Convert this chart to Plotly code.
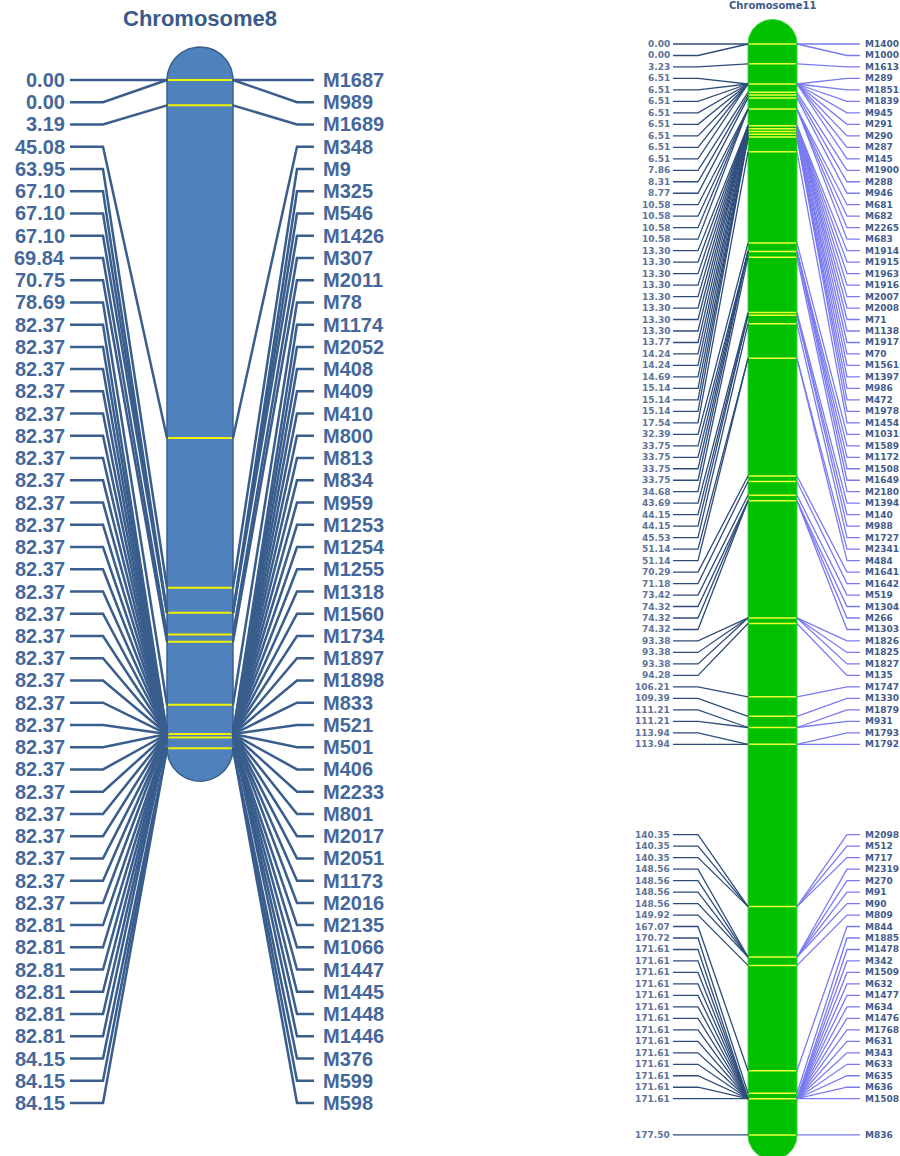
import numpy as np
import plotly.graph_objects as go

# ---------------- data ----------------
chr8_markers = ["M1687", "M989", "M1689", "M348", "M9", "M325", "M546", "M1426", "M307", "M2011",
                "M78", "M1174", "M2052", "M408", "M409", "M410", "M800", "M813", "M834", "M959",
                "M1253", "M1254", "M1255", "M1318", "M1560", "M1734", "M1897", "M1898", "M833", "M521",
                "M501", "M406", "M2233", "M801", "M2017", "M2051", "M1173", "M2016", "M2135", "M1066",
                "M1447", "M1445", "M1448", "M1446", "M376", "M599", "M598"]
chr8_pos = [0.00, 0.00, 3.19, 45.08, 63.95, 67.10, 67.10, 67.10, 69.84, 70.75,
            78.69, 82.37, 82.37, 82.37, 82.37, 82.37, 82.37, 82.37, 82.37, 82.37,
            82.37, 82.37, 82.37, 82.37, 82.37, 82.37, 82.37, 82.37, 82.37, 82.37,
            82.37, 82.37, 82.37, 82.37, 82.37, 82.37, 82.37, 82.37, 82.81, 82.81,
            82.81, 82.81, 82.81, 82.81, 84.15, 84.15, 84.15]

chr11_markers = ["M1400", "M1000", "M1613", "M289", "M1851", "M1839", "M945", "M291", "M290", "M287",
                 "M145", "M1900", "M288", "M946", "M681", "M682", "M2265", "M683", "M1914", "M1915",
                 "M1963", "M1916", "M2007", "M2008", "M71", "M1138", "M1917", "M70", "M1561", "M1397",
                 "M986", "M472", "M1978", "M1454", "M1031", "M1589", "M1172", "M1508", "M1649", "M2180",
                 "M1394", "M140", "M988", "M1727", "M2341", "M484", "M1641", "M1642", "M519", "M1304",
                 "M266", "M1303", "M1826", "M1825", "M1827", "M135", "M1747", "M1330", "M1879", "M931",
                 "M1793", "M1792", "M2098", "M512", "M717", "M2319", "M270", "M91", "M90", "M809",
                 "M844", "M1885", "M1478", "M342", "M1509", "M632", "M1477", "M634", "M1476", "M1768",
                 "M631", "M343", "M633", "M635", "M636", "M1508", "M836"]
chr11_pos = [0.00, 0.00, 3.23, 6.51, 6.51, 6.51, 6.51, 6.51, 6.51, 6.51,
             6.51, 7.86, 8.31, 8.77, 10.58, 10.58, 10.58, 10.58, 13.30, 13.30,
             13.30, 13.30, 13.30, 13.30, 13.30, 13.30, 13.77, 14.24, 14.24, 14.69,
             15.14, 15.14, 15.14, 17.54, 32.39, 33.75, 33.75, 33.75, 33.75, 34.68,
             43.69, 44.15, 44.15, 45.53, 51.14, 51.14, 70.29, 71.18, 73.42, 74.32,
             74.32, 74.32, 93.38, 93.38, 93.38, 94.28, 106.21, 109.39, 111.21, 111.21,
             113.94, 113.94, 140.35, 140.35, 140.35, 148.56, 148.56, 148.56, 148.56, 149.92,
             167.07, 170.72, 171.61, 171.61, 171.61, 171.61, 171.61, 171.61, 171.61, 171.61,
             171.61, 171.61, 171.61, 171.61, 171.61, 171.61, 177.50]

# ---------------- layout constants (pixels) ----------------
W, H = 900, 1156
CHR8 = dict(name="Chromosome8", scale=7.94, origin=80, x0=167, x1=233,
            l_start=70, l_knee=103, r_knee=297, r_end=314, lab_l=67, lab_r=321,
            gap=22.24, title_y=19)
CHR11 = dict(name="Chromosome11", scale=6.146, origin=44, x0=748, x1=797,
             l_start=673, l_knee=698, r_knee=847, r_end=860, lab_l=672, lab_r=863,
             gap=11.48, title_y=5)


def spread(pos, s):
    y = list(pos)
    for i in range(len(y) - 2, -1, -1):
        y[i] = min(pos[i], y[i + 1] - s)
    y[0] = max(y[0], pos[0])
    for i in range(1, len(y)):
        y[i] = max(y[i], y[i - 1] + s)
    return y


def capsule(c, top, bottom):
    r = (c["x1"] - c["x0"]) / 2
    cx = (c["x0"] + c["x1"]) / 2
    rc = r / c["scale"]
    t1 = np.linspace(np.pi, 0, 50)
    t2 = np.linspace(0, -np.pi, 50)
    xs = np.concatenate([cx + r * np.cos(t1), cx + r * np.cos(t2)])
    ys = np.concatenate([top - rc * np.sin(t1), bottom - rc * np.sin(t2)])
    xs = np.append(xs, xs[0])
    ys = np.append(ys, ys[0])
    return xs, ys


fig = go.Figure()
annotations = []


def add_chrom(c, pos, markers, yref, style):
    yax = "y" if yref == "y" else "y2"
    top, bottom = min(pos), max(pos)
    xs, ys = capsule(c, top, bottom)
    fig.add_trace(go.Scatter(x=xs, y=ys, mode="lines", fill="toself",
                             fillcolor=style["fill"],
                             line=dict(color=style["outline"], width=style["outline_w"]),
                             yaxis=yax, hoverinfo="skip"))
    bx, by = [], []
    for p in sorted(set(pos)):
        bx += [c["x0"] + 1, c["x1"] - 1, None]
        by += [p, p, None]
    fig.add_trace(go.Scatter(x=bx, y=by, mode="lines",
                             line=dict(color=style["band"], width=style["band_w"]),
                             yaxis=yax, hoverinfo="skip"))
    labs = spread(pos, c["gap"] / c["scale"])
    lx, ly, rx, ry = [], [], [], []
    for p, ly_ in zip(pos, labs):
        lx += [c["l_start"], c["l_knee"], c["x0"], None]
        ly += [ly_, ly_, p, None]
        rx += [c["x1"], c["r_knee"], c["r_end"], None]
        ry += [p, ly_, ly_, None]
    fig.add_trace(go.Scatter(x=lx, y=ly, mode="lines",
                             line=dict(color=style["lcol"], width=style["lw"]),
                             yaxis=yax, hoverinfo="skip"))
    fig.add_trace(go.Scatter(x=rx, y=ry, mode="lines",
                             line=dict(color=style["rcol"], width=style["lw"]),
                             yaxis=yax, hoverinfo="skip"))
    for p, m, y_ in zip(pos, markers, labs):
        annotations.append(dict(x=c["lab_l"], y=y_, xref="x", yref=yref, text=f"{p:.2f}",
                                showarrow=False, xanchor="right", yanchor="middle",
                                font=dict(family=style["font"], size=style["fs"],
                                          color=style["ltext"], weight="bold")))
        annotations.append(dict(x=c["lab_r"], y=y_, xref="x", yref=yref, text=m,
                                showarrow=False, xanchor="left", yanchor="middle",
                                font=dict(family=style["font"], size=style["fs"],
                                          color=style["rtext"], weight="bold")))
    annotations.append(dict(x=(c["x0"] + c["x1"]) / 2, y=1 - c["title_y"] / H, xref="x",
                            yref="paper", text=c["name"], showarrow=False,
                            xanchor="center", yanchor="middle",
                            font=dict(family=style["font"], size=style["tfs"],
                                      color=style["title"], weight="bold")))


style8 = dict(fill="#4f81bd", outline="#3a5f8c", outline_w=1.5, band="#f2f200", band_w=2,
              lcol="#395d8c", rcol="#395d8c", lw=2.5, font="Liberation Sans, Arial",
              fs=20, tfs=22, ltext="#45679a", rtext="#45679a", title="#3a5a8a")
style11 = dict(fill="#00c000", outline="#3ad83a", outline_w=1, band="#f0ff30", band_w=1.5,
               lcol="#2e4c7a", rcol="#7a7af0", lw=1.3, font="DejaVu Sans",
               fs=9, tfs=10, ltext="#5d7398", rtext="#3f5b8a", title="#3f5b8a")

add_chrom(CHR8, chr8_pos, chr8_markers, "y", style8)
add_chrom(CHR11, chr11_pos, chr11_markers, "y2", style11)

ax_hidden = dict(visible=False, showgrid=False, zeroline=False, fixedrange=True)
fig.update_layout(
    width=W, height=H, margin=dict(l=0, r=0, t=0, b=0),
    paper_bgcolor="white", plot_bgcolor="white", showlegend=False, hovermode=False,
    xaxis=dict(range=[0, W], domain=[0, 1], **ax_hidden),
    yaxis=dict(range=[(H - CHR8["origin"]) / CHR8["scale"], -CHR8["origin"] / CHR8["scale"]],
               domain=[0, 1], **ax_hidden),
    yaxis2=dict(range=[(H - CHR11["origin"]) / CHR11["scale"], -CHR11["origin"] / CHR11["scale"]],
                domain=[0, 1], overlaying="y", **ax_hidden),
    annotations=annotations,
)
fig.write_html("out.html", config={"displayModeBar": False},
               post_script="document.body.style.margin='0px';document.body.style.overflow='hidden';")
